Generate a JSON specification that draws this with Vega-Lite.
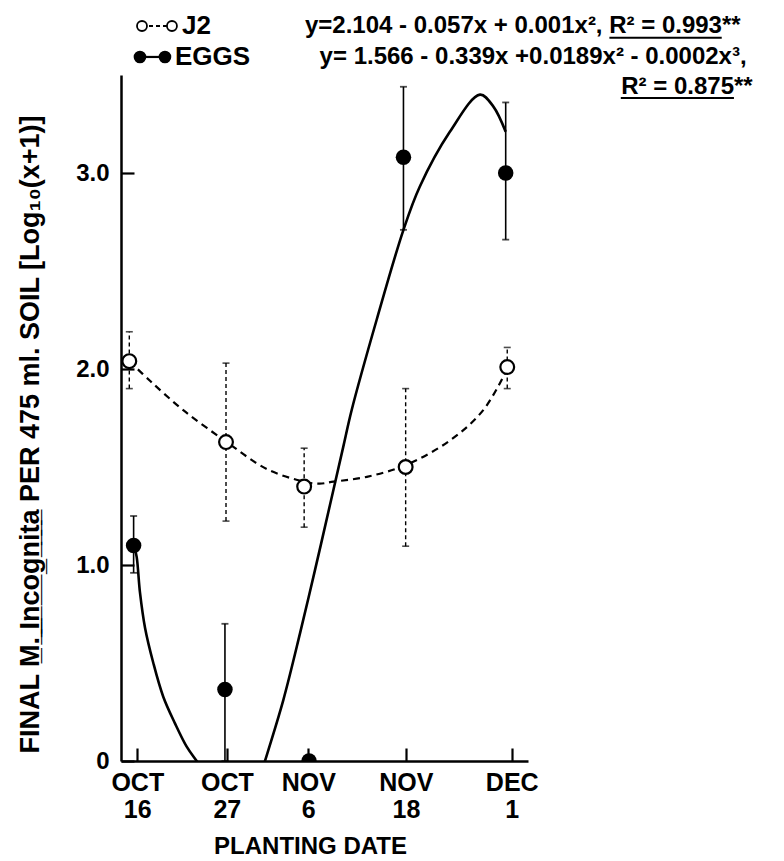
{
  "$schema": "https://vega.github.io/schema/vega-lite/v6.json",
  "width": 407,
  "height": 686,
  "autosize": {"type": "none"},
  "padding": {"left": 121, "top": 75, "right": 256, "bottom": 100},
  "background": "white",
  "config": {"view": {"stroke": null}, "font": "Liberation Sans"},
  "datasets": {
    "j2pts": [
      {"date": "Oct 16", "day": -0.98, "v": 2.04, "lo": 1.90, "hi": 2.19},
      {"date": "Oct 27", "day": 10.9, "v": 1.627, "lo": 1.224, "hi": 2.03},
      {"date": "Nov 6", "day": 20.5, "v": 1.40, "lo": 1.193, "hi": 1.596},
      {"date": "Nov 18", "day": 32.97, "v": 1.50, "lo": 1.096, "hi": 1.90},
      {"date": "Dec 1", "day": 45.45, "v": 2.01, "lo": 1.90, "hi": 2.11}
    ],
    "eggpts": [
      {"date": "Oct 16", "day": -0.45, "v": 1.10, "lo": 0.96, "hi": 1.25},
      {"date": "Oct 27", "day": 10.77, "v": 0.365, "lo": 0, "hi": 0.70},
      {"date": "Nov 6", "day": 21.1, "v": 0},
      {"date": "Nov 18", "day": 32.7, "v": 3.08, "lo": 2.71, "hi": 3.44},
      {"date": "Dec 1", "day": 45.26, "v": 3.00, "lo": 2.66, "hi": 3.36}
    ],
    "j2curve": [
      {"day": -0.98, "v": 2.04}, {"day": 1.56, "v": 1.94}, {"day": 5.65, "v": 1.79},
      {"day": 10.9, "v": 1.63}, {"day": 15.9, "v": 1.49}, {"day": 20.5, "v": 1.425},
      {"day": 22.4, "v": 1.415}, {"day": 24.1, "v": 1.425}, {"day": 28.2, "v": 1.45},
      {"day": 33.0, "v": 1.51}, {"day": 38.4, "v": 1.635}, {"day": 42.5, "v": 1.79},
      {"day": 45.45, "v": 2.0}
    ],
    "eggcurve": [
      {"day": -0.4, "v": 1.10}, {"day": -0.07, "v": 1.04}, {"day": 0.33, "v": 0.86},
      {"day": 0.95, "v": 0.68}, {"day": 1.97, "v": 0.50}, {"day": 3.19, "v": 0.328},
      {"day": 4.63, "v": 0.192}, {"day": 6.07, "v": 0.073}, {"day": 7.3, "v": 0.0},
      {"day": 9.5, "v": -0.12}, {"day": 11.5, "v": -0.25}, {"day": 13.5, "v": -0.3},
      {"day": 15.69, "v": 0}, {"day": 17.94, "v": 0.311}, {"day": 19.99, "v": 0.651},
      {"day": 21.83, "v": 0.974}, {"day": 23.67, "v": 1.306}, {"day": 25.31, "v": 1.604},
      {"day": 26.34, "v": 1.791}, {"day": 29.4, "v": 2.25}, {"day": 32.7, "v": 2.71},
      {"day": 34.7, "v": 2.93}, {"day": 38.4, "v": 3.21}, {"day": 42.1, "v": 3.40},
      {"day": 43.73, "v": 3.34}, {"day": 45.26, "v": 3.21}
    ]
  },
  "layer": [
    {
      "data": {"name": "j2curve"},
      "mark": {"type": "line", "interpolate": "catmull-rom", "strokeDash": [7, 5], "strokeWidth": 2.2, "color": "black"},
      "encoding": {
        "x": {
          "field": "day", "type": "quantitative",
          "scale": {"domain": [-2, 48], "nice": false, "zero": false},
          "axis": {
            "title": "PLANTING DATE",
            "values": [0, 11, 21, 33, 46],
            "labelExpr": "datum.value == 0 ? ['OCT','16'] : datum.value == 11 ? ['OCT','27'] : datum.value == 21 ? ['NOV','6'] : datum.value == 33 ? ['NOV','18'] : ['DEC','1']",
            "labelFont": "Liberation Sans", "labelFontSize": 25, "labelFontWeight": "bold", "labelColor": "black",
            "labelLineHeight": 27, "labelPadding": 22, "labelBaseline": "top",
            "tickSize": -13, "tickWidth": 2.2, "tickColor": "black",
            "domainWidth": 2.5, "domainColor": "black", "grid": false,
            "titleFont": "Liberation Sans", "titleFontSize": 24, "titleFontWeight": "bold", "titleColor": "black",
            "titlePadding": 12, "titleX": 189
          }
        },
        "y": {
          "field": "v", "type": "quantitative",
          "scale": {"domain": [0, 3.5], "nice": false},
          "axis": {
            "title": "FINAL M\u0332.\u0332 \u0332I\u0332n\u0332c\u0332o\u0332g\u0332n\u0332i\u0332t\u0332a\u0332 PER 475 ml. SOIL [Log\u2081\u2080(x+1)]",
            "values": [0, 1, 2, 3],
            "labelExpr": "datum.value == 0 ? '0' : format(datum.value, '.1f')",
            "labelFont": "Liberation Sans", "labelFontSize": 24, "labelFontWeight": "bold", "labelColor": "black",
            "labelPadding": 25,
            "tickSize": -13, "tickWidth": 2.2, "tickColor": "black",
            "domainWidth": 2.5, "domainColor": "black", "grid": false,
            "titleFont": "Liberation Sans", "titleFontSize": 27, "titleFontWeight": "bold", "titleColor": "black",
            "titlePadding": 31, "titleY": 359
          }
        }
      }
    },
    {
      "data": {"name": "eggcurve"},
      "mark": {"type": "line", "interpolate": "catmull-rom", "strokeWidth": 2.6, "color": "black", "clip": true},
      "encoding": {
        "x": {"field": "day", "type": "quantitative"},
        "y": {"field": "v", "type": "quantitative"}
      }
    },
    {
      "data": {"name": "j2pts"},
      "mark": {"type": "rule", "strokeDash": [4, 3], "strokeWidth": 1.4, "color": "black"},
      "encoding": {
        "x": {"field": "day", "type": "quantitative"},
        "y": {"field": "lo", "type": "quantitative"},
        "y2": {"field": "hi"}
      }
    },
    {
      "data": {"name": "j2pts"},
      "transform": [{"fold": ["lo", "hi"], "as": ["end", "val"]}],
      "mark": {"type": "tick", "orient": "horizontal", "size": 7, "thickness": 1.6, "color": "black"},
      "encoding": {
        "x": {"field": "day", "type": "quantitative"},
        "y": {"field": "val", "type": "quantitative"}
      }
    },
    {
      "data": {"name": "eggpts"},
      "transform": [{"filter": "isValid(datum.hi)"}],
      "mark": {"type": "rule", "strokeWidth": 1.6, "color": "black"},
      "encoding": {
        "x": {"field": "day", "type": "quantitative"},
        "y": {"field": "lo", "type": "quantitative"},
        "y2": {"field": "hi"}
      }
    },
    {
      "data": {"name": "eggpts"},
      "transform": [{"filter": "isValid(datum.hi)"}, {"fold": ["lo", "hi"], "as": ["end", "val"]}],
      "mark": {"type": "tick", "orient": "horizontal", "size": 7, "thickness": 1.8, "color": "black"},
      "encoding": {
        "x": {"field": "day", "type": "quantitative"},
        "y": {"field": "val", "type": "quantitative"}
      }
    },
    {
      "data": {"name": "j2pts"},
      "mark": {"type": "point", "shape": "circle", "filled": true, "fill": "white", "stroke": "black", "strokeWidth": 2.2, "size": 190, "opacity": 1},
      "encoding": {
        "x": {"field": "day", "type": "quantitative"},
        "y": {"field": "v", "type": "quantitative"}
      }
    },
    {
      "data": {"name": "eggpts"},
      "mark": {"type": "circle", "size": 240, "color": "black", "opacity": 1, "clip": true},
      "encoding": {
        "x": {"field": "day", "type": "quantitative"},
        "y": {"field": "v", "type": "quantitative"}
      }
    },
    {
      "data": {"values": [{}]},
      "mark": {"type": "rule", "strokeDash": [4, 3], "strokeWidth": 1.8, "color": "black"},
      "encoding": {
        "x": {"datum": 0.58, "type": "quantitative"},
        "x2": {"datum": 4.26},
        "y": {"datum": 3.75, "type": "quantitative"}
      }
    },
    {
      "data": {"values": [{}]},
      "mark": {"type": "point", "shape": "circle", "filled": true, "fill": "white", "stroke": "black", "strokeWidth": 1.8, "size": 100, "opacity": 1},
      "encoding": {
        "x": {"datum": 0.58, "type": "quantitative"},
        "y": {"datum": 3.75, "type": "quantitative"}
      }
    },
    {
      "data": {"values": [{}]},
      "mark": {"type": "point", "shape": "circle", "filled": true, "fill": "white", "stroke": "black", "strokeWidth": 1.8, "size": 100, "opacity": 1},
      "encoding": {
        "x": {"datum": 4.26, "type": "quantitative"},
        "y": {"datum": 3.75, "type": "quantitative"}
      }
    },
    {
      "data": {"values": [{}]},
      "mark": {"type": "rule", "strokeWidth": 2.2, "color": "black"},
      "encoding": {
        "x": {"datum": 0.33, "type": "quantitative"},
        "x2": {"datum": 3.4},
        "y": {"datum": 3.592, "type": "quantitative"}
      }
    },
    {
      "data": {"values": [{}]},
      "mark": {"type": "circle", "size": 160, "color": "black", "opacity": 1},
      "encoding": {
        "x": {"datum": 0.33, "type": "quantitative"},
        "y": {"datum": 3.592, "type": "quantitative"}
      }
    },
    {
      "data": {"values": [{}]},
      "mark": {"type": "circle", "size": 160, "color": "black", "opacity": 1},
      "encoding": {
        "x": {"datum": 3.4, "type": "quantitative"},
        "y": {"datum": 3.592, "type": "quantitative"}
      }
    },
    {
      "data": {"values": [{}]},
      "mark": {"type": "text", "text": "J2", "align": "left", "baseline": "middle", "font": "Liberation Sans", "fontSize": 26, "fontWeight": "bold", "color": "black"},
      "encoding": {
        "x": {"datum": 5.49, "type": "quantitative"},
        "y": {"datum": 3.75, "type": "quantitative"}
      }
    },
    {
      "data": {"values": [{}]},
      "mark": {"type": "text", "text": "EGGS", "align": "left", "baseline": "middle", "font": "Liberation Sans", "fontSize": 26, "fontWeight": "bold", "color": "black"},
      "encoding": {
        "x": {"datum": 4.63, "type": "quantitative"},
        "y": {"datum": 3.592, "type": "quantitative"}
      }
    },
    {
      "data": {"values": [{}]},
      "mark": {"type": "text", "text": "y=2.104 - 0.057x + 0.001x\u00b2, R\u00b2 = 0.993**", "align": "left", "baseline": "middle", "font": "Liberation Sans", "fontSize": 24, "fontWeight": "bold", "color": "black"},
      "encoding": {
        "x": {"datum": 20.6, "type": "quantitative"},
        "y": {"datum": 3.75, "type": "quantitative"}
      }
    },
    {
      "data": {"values": [{}]},
      "mark": {"type": "rule", "strokeWidth": 2, "color": "black"},
      "encoding": {
        "x": {"datum": 58.0, "type": "quantitative"},
        "x2": {"datum": 71.8},
        "y": {"datum": 3.69, "type": "quantitative"}
      }
    },
    {
      "data": {"values": [{}]},
      "mark": {"type": "text", "text": "y= 1.566 - 0.339x +0.0189x\u00b2 - 0.0002x\u00b3,", "align": "left", "baseline": "middle", "font": "Liberation Sans", "fontSize": 24, "fontWeight": "bold", "color": "black"},
      "encoding": {
        "x": {"datum": 22.4, "type": "quantitative"},
        "y": {"datum": 3.592, "type": "quantitative"}
      }
    },
    {
      "data": {"values": [{}]},
      "mark": {"type": "text", "text": "R\u00b2 = 0.875**", "align": "right", "baseline": "middle", "font": "Liberation Sans", "fontSize": 24, "fontWeight": "bold", "color": "black"},
      "encoding": {
        "x": {"datum": 75.6, "type": "quantitative"},
        "y": {"datum": 3.44, "type": "quantitative"}
      }
    },
    {
      "data": {"values": [{}]},
      "mark": {"type": "rule", "strokeWidth": 2, "color": "black"},
      "encoding": {
        "x": {"datum": 59.4, "type": "quantitative"},
        "x2": {"datum": 73.3},
        "y": {"datum": 3.383, "type": "quantitative"}
      }
    }
  ]
}
